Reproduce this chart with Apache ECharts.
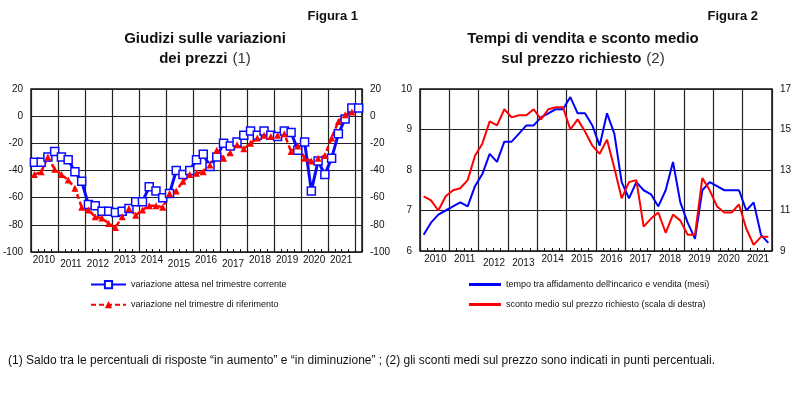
<!DOCTYPE html>
<html>
<head>
<meta charset="utf-8">
<script src="https://cdn.jsdelivr.net/npm/echarts@6/dist/echarts.min.js"></script>
<style>
  html, body { margin: 0; padding: 0; background: #fff; }
  #main { width: 800px; height: 397px; }
</style>
</head>
<body>
<div id="main"></div>
<script>
// anni e trimestri
const years = [2010, 2011, 2012, 2013, 2014, 2015, 2016, 2017, 2018, 2019, 2020, 2021]
const quartersLeft = []   // 2010T1 .. 2022T1 (49)
years.concat([2022]).forEach(y => [1, 2, 3, 4].forEach(q => quartersLeft.push(y + 'T' + q)))
quartersLeft.length = 49
const quartersRight = quartersLeft.slice(0, 48) // 2010T1 .. 2021T4

// Figura 1 - giudizi sulle variazioni dei prezzi
const attesaCorrente = [
  -34, -34, -30, -26, -30, -32, -41, -48, -65, -66, -70, -70,
  -71, -70, -68, -63, -63, -52, -55, -60, -57, -40, -43, -40,
  -32, -28, -37, -30, -20, -22, -19, -14, -11, -14, -11, -14,
  -15, -11, -12, -25, -19, -55, -33, -43, -31, -13, -2, 6, 6
]
const trimestreRiferimento = [
  -43, -41, -30, -39, -43, -47, -53, -67, -69, -74, -75, -79,
  -82, -74, -68, -73, -69, -66, -66, -67, -57, -55, -48, -43,
  -42, -41, -36, -25, -31, -27, -21, -24, -20, -16, -14, -15,
  -14, -13, -26, -22, -31, -33, -31, -29, -16, -4, 1, 3, null
]

// Figura 2 - tempi di vendita (mesi) e sconto medio (%)
const tempoVendita = [
  6.4, 6.7, 6.9, 7.0, 7.1, 7.2, 7.1, 7.6, 7.9, 8.4, 8.2, 8.7,
  8.7, 8.9, 9.1, 9.1, 9.3, 9.4, 9.5, 9.5, 9.8, 9.4, 9.4, 9.1,
  8.6, 9.4, 8.9, 7.7, 7.3, 7.7, 7.5, 7.4, 7.1, 7.5, 8.2, 7.2,
  6.7, 6.3, 7.5, 7.7, 7.6, 7.5, 7.5, 7.5, 7.0, 7.2, 6.4, 6.2
]
const scontoMedio = [
  11.7, 11.5, 11.0, 11.7, 12.0, 12.1, 12.5, 13.7, 14.3, 15.4, 15.2, 16.0,
  15.6, 15.7, 15.7, 16.0, 15.5, 16.0, 16.1, 16.1, 15.0, 15.5, 14.9, 14.2,
  13.8, 14.5, 13.1, 11.6, 12.4, 12.5, 10.2, 10.6, 10.9, 9.9, 10.8, 10.5,
  9.8, 9.8, 12.6, 12.0, 11.2, 10.9, 10.9, 11.3, 10.1, 9.3, 9.7, 9.7
]

const lowLeft = ['2011', '2012', '2015', '2017']
const lowRight = ['2012', '2013']

const chart = echarts.init(document.getElementById('main'))
const font = 'Liberation Sans, Arial, sans-serif'
const gridLine = { color: '#222', width: 1.2 }

function yearAxis(data, gridIndex, low, padRight) {
  return {
    type: 'category',
    gridIndex: gridIndex,
    data: data,
    boundaryGap: true,
    axisLine: { show: false, onZero: false },
    axisTick: { show: true, inside: true, length: 3, interval: 0, lineStyle: { color: '#111' } },
    splitLine: { show: true, interval: (i) => i % 4 === 0, lineStyle: gridLine },
    axisLabel: {
      interval: (i) => i % 4 === 2,
      margin: 3,
      formatter: (v) => {
        const y = v.slice(0, 4)
        return low.indexOf(y) >= 0 ? '{lo|' + y + '}' : '{n|' + y + '}'
      },
      rich: {
        n: { fontSize: 10, fontFamily: font, color: '#111', padding: [0, padRight, 0, 0] },
        lo: { fontSize: 10, fontFamily: font, color: '#111', padding: [4, padRight, 0, 0] }
      }
    }
  }
}

function valAxis(gridIndex, pos, min, max, step, split) {
  return {
    type: 'value',
    gridIndex: gridIndex,
    position: pos,
    min: min, max: max, interval: step,
    axisLine: { show: false },
    axisTick: { show: false },
    splitLine: { show: split, lineStyle: gridLine },
    axisLabel: { fontSize: 10, fontFamily: font, color: '#111', margin: 8 }
  }
}

chart.setOption({
  animation: false,
  title: [
    { text: 'Figura 1', right: 437, top: 5, textStyle: { fontSize: 13, fontWeight: 'bold', fontFamily: font, color: '#111' } },
    { text: 'Figura 2', right: 37, top: 5, textStyle: { fontSize: 13, fontWeight: 'bold', fontFamily: font, color: '#111' } },
    {
      text: '{b|Giudizi sulle variazioni}\n{b|dei prezzi} {n|(1)}',
      left: 200, top: 24, textAlign: 'center',
      textStyle: {
        rich: {
          b: { fontSize: 15, fontWeight: 'bold', fontFamily: font, color: '#111', lineHeight: 20, align: 'center' },
          n: { fontSize: 15, fontWeight: 'normal', fontFamily: font, color: '#333', lineHeight: 20 }
        }
      }
    },
    {
      text: '{b|Tempi di vendita e sconto medio}\n{b|sul prezzo richiesto} {n|(2)}',
      left: 578, top: 24, textAlign: 'center',
      textStyle: {
        rich: {
          b: { fontSize: 15, fontWeight: 'bold', fontFamily: font, color: '#111', lineHeight: 20, align: 'center' },
          n: { fontSize: 15, fontWeight: 'normal', fontFamily: font, color: '#333', lineHeight: 20 }
        }
      }
    },
    {
      text: '(1) Saldo tra le percentuali di risposte \u201cin aumento\u201d e \u201cin diminuzione\u201d ; (2) gli sconti medi sul prezzo sono indicati in punti percentuali.',
      left: 3, top: 350,
      textStyle: { fontSize: 12, fontWeight: 'normal', fontFamily: 'Liberation Sans Narrow, Arial Narrow, sans-serif', color: '#111' }
    }
  ],
  legend: [
    {
      orient: 'vertical', left: 85, top: 275, itemGap: 11, itemWidth: 35, itemHeight: 9,
      textStyle: { fontSize: 9, fontFamily: font, color: '#111' },
      data: ['variazione attesa nel trimestre corrente', 'variazione nel trimestre di riferimento']
    },
    {
      orient: 'vertical', left: 464, top: 275, itemGap: 11, itemWidth: 32, itemHeight: 3,
      icon: 'rect',
      textStyle: { fontSize: 9, fontFamily: font, color: '#111' },
      data: ['tempo tra affidamento dell\'incarico e vendita (mesi)', 'sconto medio sul prezzo richiesto (scala di destra)']
    }
  ],
  grid: [
    { left: 29, width: 333, top: 89, height: 163, show: true, borderColor: '#111', borderWidth: 1.5 },
    { left: 420, width: 352, top: 89, height: 162, show: true, borderColor: '#111', borderWidth: 1.5 }
  ],
  xAxis: [
    yearAxis(quartersLeft, 0, lowLeft, 8),
    yearAxis(quartersRight, 1, lowRight, 6)
  ],
  yAxis: [
    valAxis(0, 'left', -100, 20, 20, true),
    valAxis(0, 'right', -100, 20, 20, false),
    valAxis(1, 'left', 6, 10, 1, true),
    valAxis(1, 'right', 9, 17, 2, false)
  ],
  series: [
    {
      name: 'variazione attesa nel trimestre corrente',
      type: 'line', xAxisIndex: 0, yAxisIndex: 0,
      data: attesaCorrente,
      symbol: 'rect', symbolSize: 8, showAllSymbol: true,
      lineStyle: { color: '#0a0aff', width: 3 },
      itemStyle: { color: '#fff', borderColor: '#0a0aff', borderWidth: 1.5 }
    },
    {
      name: 'variazione nel trimestre di riferimento',
      type: 'line', xAxisIndex: 0, yAxisIndex: 0,
      data: trimestreRiferimento,
      symbol: 'triangle', symbolSize: 7, showAllSymbol: true,
      lineStyle: { color: '#ff0000', width: 2.5, type: [5, 3] },
      itemStyle: { color: '#ff0000' }
    },
    {
      name: 'tempo tra affidamento dell\'incarico e vendita (mesi)',
      type: 'line', xAxisIndex: 1, yAxisIndex: 2,
      data: tempoVendita,
      symbol: 'none',
      lineStyle: { color: '#0000ff', width: 2 },
      itemStyle: { color: '#0000ff' }
    },
    {
      name: 'sconto medio sul prezzo richiesto (scala di destra)',
      type: 'line', xAxisIndex: 1, yAxisIndex: 3,
      data: scontoMedio,
      symbol: 'none',
      lineStyle: { color: '#ff0000', width: 2 },
      itemStyle: { color: '#ff0000' }
    }
  ]
})
</script>
</body>
</html>
